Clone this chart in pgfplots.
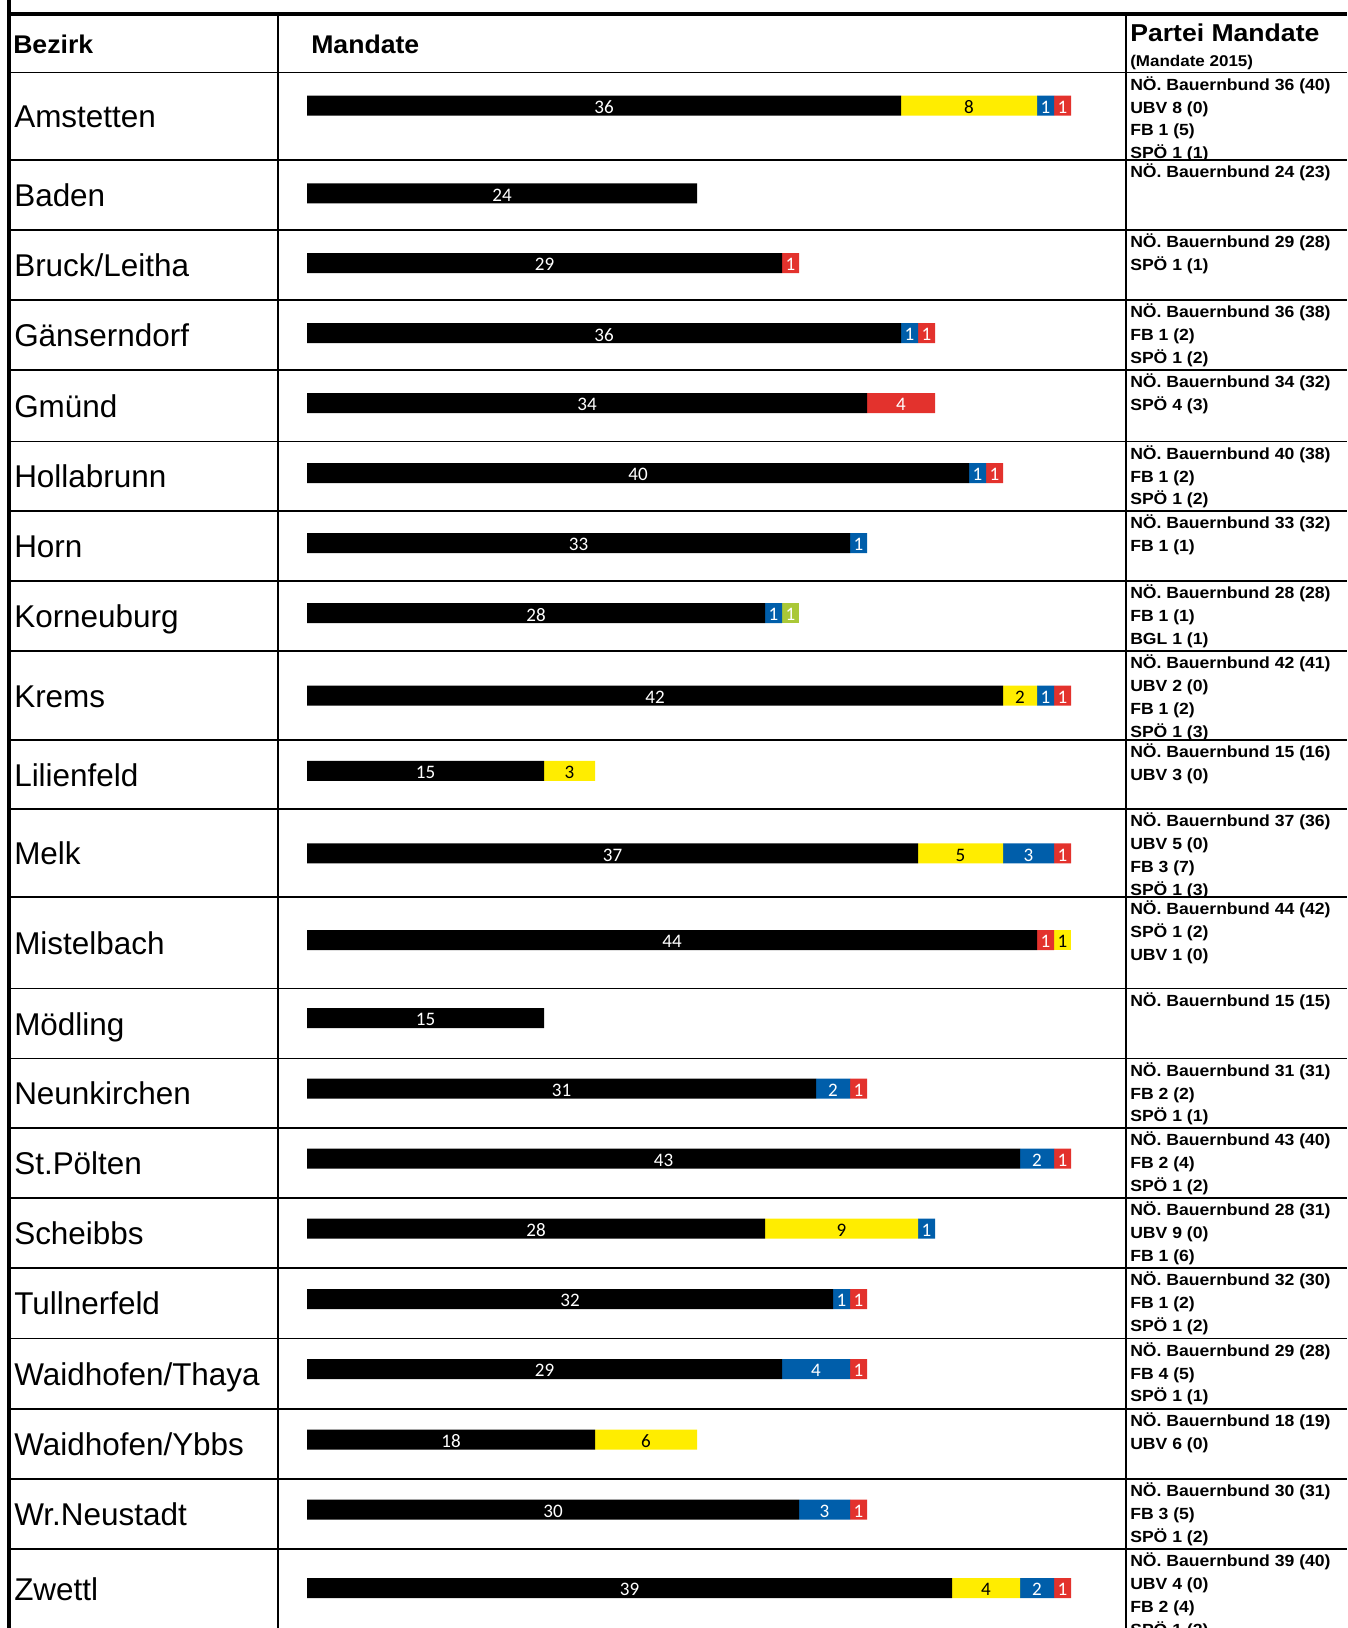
\documentclass[border=0pt]{standalone}
\usepackage{fontspec}
\setmainfont{Liberation Sans}
\newfontfamily\hbA[FakeStretch=1.04]{Liberation Sans}
\newfontfamily\hbB[FakeStretch=1.09]{Liberation Sans}
\newfontfamily\carl{Carlito}
\usepackage{pgfplots}
\usepackage{pgfplotstable}
\pgfplotsset{compat=1.18}
\definecolor{ubvyellow}{RGB}{255,237,0}
\definecolor{fbblue}{RGB}{0,94,170}
\definecolor{spored}{RGB}{227,50,45}
\definecolor{bglgreen}{RGB}{170,200,55}
\newcommand{\lfont}{\fontsize{23.6}{28}\selectfont}
\newcommand{\rfont}{\hbB\bfseries\fontsize{12.1}{14}\selectfont}
% one table row: top line, bottom line, district, party lines
\newcommand{\row}[4]{%
  \node[anchor=base west,inner sep=0pt,font=\lfont] at (14,{(#1+#2)/2+11.6}) {#3};
  \begin{scope}
    \clip (1127.5,#1) rectangle (1347,#2);
    \foreach \t [count=\i] in {#4}
      \node[anchor=base west,inner sep=0pt,font=\rfont] at (1130,{#1+17.7+(\i-1)*22.8}) {\t};
  \end{scope}}
% y = bar centre (px from top); seats per party, in stacking order
\pgfplotstableread{
y      bb ubv fb bgl spo ubvb
105.7  36 8 1 0 1 0
193.3  24 0 0 0 0 0
263    29 0 0 0 1 0
333    36 0 1 0 1 0
403    34 0 0 0 4 0
473    40 0 1 0 1 0
543    33 0 1 0 0 0
613    28 0 1 1 0 0
695.5  42 2 1 0 1 0
770.8  15 3 0 0 0 0
853.3  37 5 3 0 1 0
940    44 0 0 0 1 1
1018   15 0 0 0 0 0
1088.7 31 0 2 0 1 0
1158.7 43 0 2 0 1 0
1228.7 28 9 1 0 0 0
1299   32 0 1 0 1 0
1369   29 0 4 0 1 0
1439.7 18 6 0 0 0 0
1509.5 30 0 3 0 1 0
1588   39 4 2 0 1 0
}\seats
\begin{document}
\begin{tikzpicture}
\useasboundingbox (0,0) rectangle (1010.25pt,-1221pt);
\begin{axis}[
  at={(230.25pt,0pt)}, anchor=north west,
  scale only axis, width=614.25pt, height=1221pt,
  xmin=1.0588, xmax=49.235, ymin=0, ymax=1628,
  y dir=reverse, hide axis,
  xbar stacked, bar width=15pt,
  nodes near coords={\ifdim\segv pt>0pt \pgfmathtruncatemacro\lab{\segv}\lab\fi},
  nodes near coords align={center},
  every node near coord/.append style={font=\carl\fontsize{14.3}{14}\selectfont,
    inner sep=0pt, anchor=center, yshift=-1.3pt},
]
\addplot[fill=black, draw=none,
  visualization depends on={\thisrow{bb} \as \segv},
  every node near coord/.append style={text=white, xshift=6.75pt}]
  table[x=bb, y=y] {\seats};
\addplot[fill=ubvyellow, draw=none,
  visualization depends on={\thisrow{ubv} \as \segv},
  every node near coord/.append style={text=black}]
  table[x=ubv, y=y] {\seats};
\addplot[fill=fbblue, draw=none,
  visualization depends on={\thisrow{fb} \as \segv},
  every node near coord/.append style={text=white}]
  table[x=fb, y=y] {\seats};
\addplot[fill=bglgreen, draw=none,
  visualization depends on={\thisrow{bgl} \as \segv},
  every node near coord/.append style={text=white}]
  table[x=bgl, y=y] {\seats};
\addplot[fill=spored, draw=none,
  visualization depends on={\thisrow{spo} \as \segv},
  every node near coord/.append style={text=white}]
  table[x=spo, y=y] {\seats};
\addplot[fill=ubvyellow, draw=none,
  visualization depends on={\thisrow{ubvb} \as \segv},
  every node near coord/.append style={text=black}]
  table[x=ubvb, y=y] {\seats};
\end{axis}
\begin{scope}[x=0.75pt,y=-0.75pt]
\foreach \y in {72.5,160,230,300,370,441.5,511,581,651,740,809,897,988.5,1058.5,1128,1198,1268,1338.5,1409,1479,1549}
  \draw[line width=1.3pt] (9,\y) -- (1347,\y);
\draw[line width=1.3pt] (278,14) -- (278,1628);
\draw[line width=1.3pt] (1126,14) -- (1126,1628);
\draw[line width=2.6pt] (9,14) -- (1347,14);
\draw[line width=3pt] (9,0) -- (9,1628);
\node[anchor=base west,inner sep=0pt,font=\hbA\bfseries\fontsize{19.2}{20}\selectfont] at (13,53.3) {Bezirk};
\node[anchor=base west,inner sep=0pt,font=\hbA\bfseries\fontsize{19.2}{20}\selectfont] at (311,53.3) {Mandate};
\node[anchor=base west,inner sep=0pt,font=\hbB\bfseries\fontsize{18.3}{20}\selectfont] at (1130,41.7) {Partei Mandate};
\node[anchor=base west,inner sep=0pt,font=\hbB\bfseries\fontsize{11.7}{13}\selectfont] at (1130,66.7) {(Mandate 2015)};
\row{72.5}{160}{Amstetten}{{NÖ. Bauernbund 36 (40)},{UBV 8 (0)},{FB 1 (5)},{SPÖ 1 (1)}}
\row{160}{230}{Baden}{{NÖ. Bauernbund 24 (23)}}
\row{230}{300}{Bruck/Leitha}{{NÖ. Bauernbund 29 (28)},{SPÖ 1 (1)}}
\row{300}{370}{Gänserndorf}{{NÖ. Bauernbund 36 (38)},{FB 1 (2)},{SPÖ 1 (2)}}
\row{370}{441.5}{Gmünd}{{NÖ. Bauernbund 34 (32)},{SPÖ 4 (3)}}
\row{441.5}{511}{Hollabrunn}{{NÖ. Bauernbund 40 (38)},{FB 1 (2)},{SPÖ 1 (2)}}
\row{511}{581}{Horn}{{NÖ. Bauernbund 33 (32)},{FB 1 (1)}}
\row{581}{651}{Korneuburg}{{NÖ. Bauernbund 28 (28)},{FB 1 (1)},{BGL 1 (1)}}
\row{651}{740}{Krems}{{NÖ. Bauernbund 42 (41)},{UBV 2 (0)},{FB 1 (2)},{SPÖ 1 (3)}}
\row{740}{809}{Lilienfeld}{{NÖ. Bauernbund 15 (16)},{UBV 3 (0)}}
\row{809}{897}{Melk}{{NÖ. Bauernbund 37 (36)},{UBV 5 (0)},{FB 3 (7)},{SPÖ 1 (3)}}
\row{897}{988.5}{Mistelbach}{{NÖ. Bauernbund 44 (42)},{SPÖ 1 (2)},{UBV 1 (0)}}
\row{988.5}{1058.5}{Mödling}{{NÖ. Bauernbund 15 (15)}}
\row{1058.5}{1128}{Neunkirchen}{{NÖ. Bauernbund 31 (31)},{FB 2 (2)},{SPÖ 1 (1)}}
\row{1128}{1198}{St.Pölten}{{NÖ. Bauernbund 43 (40)},{FB 2 (4)},{SPÖ 1 (2)}}
\row{1198}{1268}{Scheibbs}{{NÖ. Bauernbund 28 (31)},{UBV 9 (0)},{FB 1 (6)}}
\row{1268}{1338.5}{Tullnerfeld}{{NÖ. Bauernbund 32 (30)},{FB 1 (2)},{SPÖ 1 (2)}}
\row{1338.5}{1409}{Waidhofen/Thaya}{{NÖ. Bauernbund 29 (28)},{FB 4 (5)},{SPÖ 1 (1)}}
\row{1409}{1479}{Waidhofen/Ybbs}{{NÖ. Bauernbund 18 (19)},{UBV 6 (0)}}
\row{1479}{1549}{Wr.Neustadt}{{NÖ. Bauernbund 30 (31)},{FB 3 (5)},{SPÖ 1 (2)}}
\row{1549}{1628}{Zwettl}{{NÖ. Bauernbund 39 (40)},{UBV 4 (0)},{FB 2 (4)},{SPÖ 1 (2)}}
\end{scope}
\end{tikzpicture}
\end{document}
